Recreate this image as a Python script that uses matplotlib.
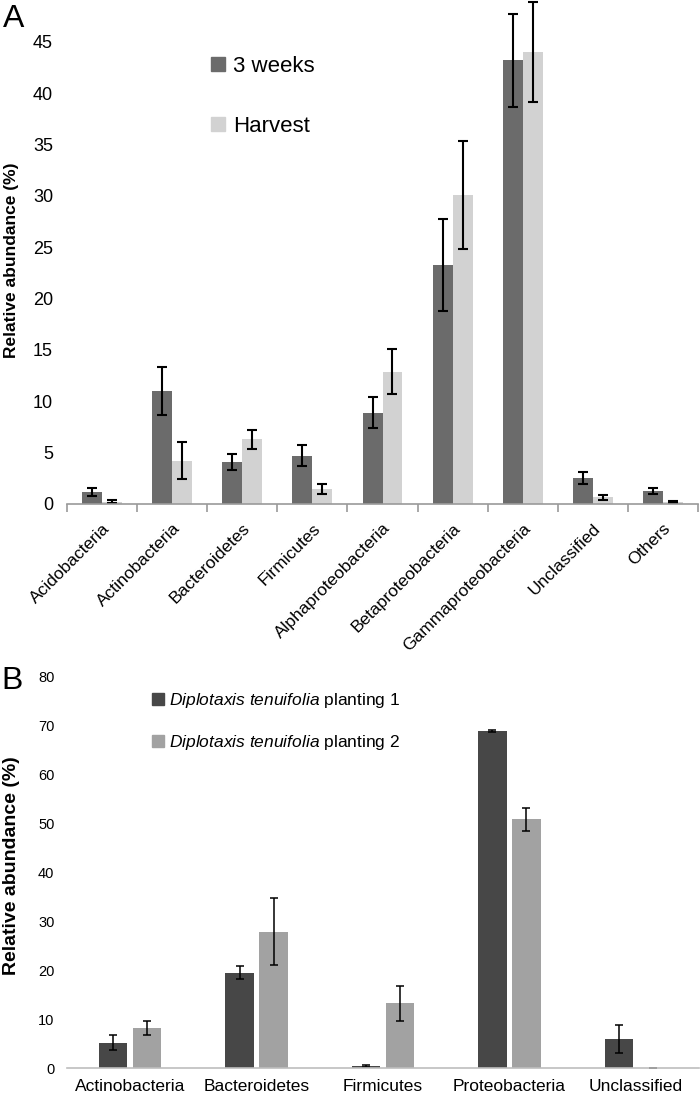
import numpy as np
import matplotlib
matplotlib.use("Agg")
from matplotlib import pyplot as plt
from matplotlib.patches import Patch

plt.rcParams['font.family'] = ['Liberation Sans', 'DejaVu Sans']
plt.rcParams['mathtext.fontset'] = 'custom'
plt.rcParams['mathtext.it'] = 'Liberation Sans:italic'
plt.rcParams['mathtext.rm'] = 'Liberation Sans'

# Panel A data
cats_a = ['Acidobacteria', 'Actinobacteria', 'Bacteroidetes', 'Firmicutes',
          'Alphaproteobacteria', 'Betaproteobacteria', 'Gammaproteobacteria',
          'Unclassified', 'Others']
weeks3 = [1.15, 11.0, 4.1, 4.7, 8.9, 23.3, 43.2, 2.5, 1.3]
weeks3_err = [0.38, 2.3, 0.8, 1.0, 1.5, 4.5, 4.55, 0.6, 0.3]
harvest = [0.2, 4.2, 6.3, 1.45, 12.9, 30.1, 44.0, 0.65, 0.2]
harvest_err = [0.15, 1.8, 0.95, 0.5, 2.2, 5.3, 4.85, 0.25, 0.1]

# Panel B data
cats_b = ['Actinobacteria', 'Bacteroidetes', 'Firmicutes', 'Proteobacteria', 'Unclassified']
plant1 = [5.2, 19.5, 0.4, 68.9, 5.9]
plant1_err = [1.5, 1.3, 0.15, 0.2, 2.9]
plant2 = [8.25, 27.9, 13.2, 50.85, 0.1]
plant2_err = [1.4, 6.9, 3.65, 2.3, 0.0]

W, H = 700, 1095
fig = plt.figure(figsize=(7, 10.95), dpi=100)

def box(x0, x1, ytop, ybot):
    return [x0 / W, 1 - ybot / H, (x1 - x0) / W, (ybot - ytop) / H]

AXCOL = '#9a9a9a'

# ---- panel A ----
ax1 = fig.add_axes(box(67, 698, 42, 504))
x = np.arange(len(cats_a))
bw = 0.285
ax1.bar(x - bw / 2, weeks3, bw, color='#6b6b6b', label='3 weeks')
ax1.bar(x + bw / 2, harvest, bw, color='#d2d2d2', label='Harvest')
ax1.errorbar(x - bw / 2, weeks3, yerr=weeks3_err, fmt='none', ecolor='black',
             elinewidth=1.5, capsize=3.5, capthick=1.5, clip_on=False)
ax1.errorbar(x + bw / 2, harvest, yerr=harvest_err, fmt='none', ecolor='black',
             elinewidth=1.5, capsize=3.5, capthick=1.5, clip_on=False)
ax1.set_xlim(-0.5, len(cats_a) - 0.5)
ax1.set_ylim(0, 45)
ax1.set_yticks(np.arange(0, 46, 5))
for s in ['top', 'right', 'left']:
    ax1.spines[s].set_visible(False)
ax1.spines['bottom'].set_color(AXCOL)
ax1.spines['bottom'].set_linewidth(1.2)
ax1.tick_params(axis='y', length=0, labelsize=13, pad=10)
ax1.set_xticks(np.arange(len(cats_a) + 1) - 0.5, minor=False)
ax1.set_xticklabels([])
ax1.tick_params(axis='x', which='major', length=6, color=AXCOL, width=1.2, direction='out')
ax1.set_xticks(x, minor=True)
ax1.set_xticklabels(cats_a, minor=True, rotation=45, ha='right', rotation_mode='anchor',
                    fontsize=12.5)
ax1.tick_params(axis='x', which='minor', length=0, pad=12)
ax1.set_ylabel('Relative abundance (%)', fontsize=12.5, fontweight='bold')
ax1.yaxis.set_label_coords(-0.076, 0.528)
ax1.legend(handles=[Patch(color='#6b6b6b', label='3 weeks'),
                    Patch(color='#d2d2d2', label='Harvest')],
           loc='upper left', bbox_to_anchor=(0.228, 0.97), frameon=False,
           borderpad=0, borderaxespad=0,
           handlelength=0.65, handleheight=0.65, handletextpad=0.35,
           labelspacing=1.75, prop={'size': 16})
fig.text(3 / W, 1 - 4 / H, 'A', fontsize=23, va='top')

# ---- panel B ----
ax2 = fig.add_axes(box(67, 699, 677, 1068))
xb = np.arange(len(cats_b))
bw2 = 0.225
off = 0.135
ax2.bar(xb - off, plant1, bw2, color='#474747')
ax2.bar(xb + off, plant2, bw2, color='#a2a2a2')
ax2.errorbar(xb - off, plant1, yerr=plant1_err, fmt='none', ecolor='black',
             elinewidth=1.1, capsize=3, capthick=1.1)
ax2.errorbar(xb + off, plant2, yerr=plant2_err, fmt='none', ecolor='black',
             elinewidth=1.1, capsize=3, capthick=1.1)
ax2.set_xlim(-0.5, len(cats_b) - 0.5)
ax2.set_ylim(0, 80)
ax2.set_yticks(np.arange(0, 81, 10))
for s in ['top', 'right', 'left']:
    ax2.spines[s].set_visible(False)
ax2.spines['bottom'].set_color('#bdbdbd')
ax2.spines['bottom'].set_linewidth(1.2)
ax2.tick_params(axis='y', length=0, labelsize=10.5, pad=9)
ax2.set_xticks(xb)
ax2.set_xticklabels(cats_b, fontsize=12.5)
ax2.tick_params(axis='x', length=0, pad=8)
ax2.set_ylabel('Relative abundance (%)', fontsize=14, fontweight='bold')
ax2.yaxis.set_label_coords(-0.0745, 0.517)
ax2.legend(handles=[Patch(color='#474747', label=r'$\it{Diplotaxis\ tenuifolia}$ planting 1'),
                    Patch(color='#a2a2a2', label=r'$\it{Diplotaxis\ tenuifolia}$ planting 2')],
           loc='upper left', bbox_to_anchor=((152 - 67) / 631, (1068 - 691) / 391),
           frameon=False, borderpad=0, borderaxespad=0,
           handlelength=0.7, handleheight=0.7, handletextpad=0.3, labelspacing=1.35,
           prop={'size': 12.5})
fig.text(1 / W, 1 - 666 / H, 'B', fontsize=23, va='top')

fig.savefig('out.png', dpi=100)
